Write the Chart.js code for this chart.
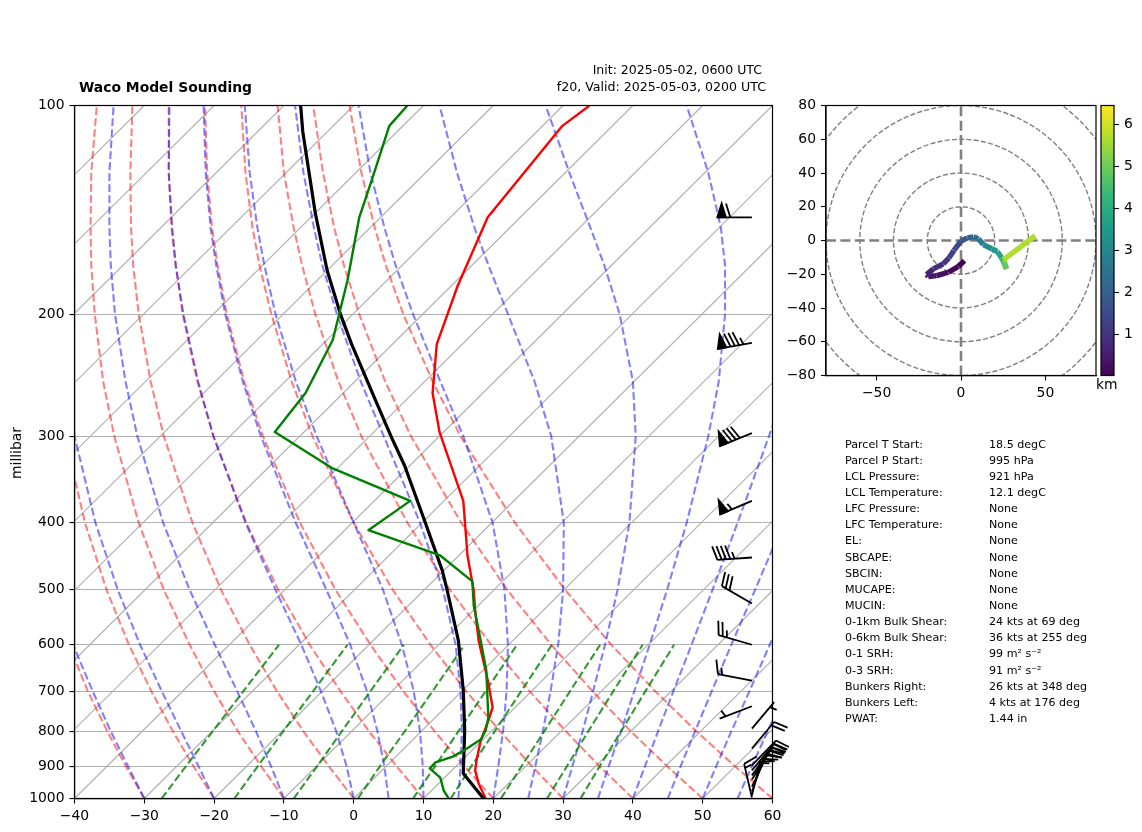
<!DOCTYPE html><html><head><meta charset="utf-8"><style>
html,body{margin:0;padding:0;background:#fff;width:1142px;height:832px;overflow:hidden}
canvas{position:absolute;left:0;top:0}
.t{position:absolute;font-family:'DejaVu Sans';color:#000;white-space:nowrap;line-height:1}
</style><script src="https://cdn.jsdelivr.net/npm/chart.js@4/dist/chart.umd.js"></script></head><body>
<canvas id="main" width="1142" height="832"></canvas>
<canvas id="hodo" width="1142" height="832"></canvas>
<canvas id="cbar" width="1142" height="832"></canvas>
<div class="t" style="left:79px;top:81px;font-size:13.9px;font-weight:bold">Waco Model Sounding</div>
<div class="t" style="right:380px;top:64px;font-size:12.5px">Init: 2025-05-02, 0600 UTC</div>
<div class="t" style="right:376px;top:81px;font-size:12.6px">f20, Valid: 2025-05-03, 0200 UTC</div>
<div class="t" style="left:17px;top:453px;font-size:13.9px;transform:translate(-50%,-50%) rotate(-90deg)">millibar</div>
<div class="t" style="left:1096px;top:378px;font-size:13.9px">km</div>
<script>
const pressureTicks=[100,200,300,400,500,600,700,800,900,1000];
const tempTicks=[-40,-30,-20,-10,0,10,20,30,40,50,60];
const levelP=[1000,900,800,700,600,500,400,300,250,200,170,150,125,100];
const mixP=[1000,900,800,700,600];
const isothermBase=[-140,-130,-120,-110,-100,-90,-80,-70,-60,-50,-40,-30,-20,-10,0,10,20,30,40,50];
const isothermTop=[-40,-30,-20,-10,0,10,20,30,40,50,60,70,80,90,100,110,120,130,140,150];
const dryAdiabats=[
[-40.0,-42.3,-44.7,-47.1,-49.5,-51.8,-53.9,-55.6,-56.0,-56.0,-55.7,-55.2,-54.1,-52.4],
[-30.0,-32.6,-35.3,-38.1,-40.8,-43.6,-46.2,-48.5,-49.3,-49.7,-49.6,-49.3,-48.6,-47.2],
[-20.0,-22.9,-25.9,-29.0,-32.2,-35.4,-38.5,-41.4,-42.6,-43.4,-43.6,-43.5,-43.1,-42.0],
[-10.0,-13.2,-16.6,-20.0,-23.5,-27.2,-30.8,-34.3,-35.9,-37.1,-37.6,-37.7,-37.6,-36.8],
[0.0,-3.5,-7.2,-11.0,-14.9,-19.0,-23.1,-27.2,-29.1,-30.8,-31.6,-31.9,-32.0,-31.7],
[10.0,6.2,2.2,-1.9,-6.3,-10.8,-15.4,-20.1,-22.4,-24.5,-25.5,-26.1,-26.5,-26.5],
[20.0,15.9,11.6,7.1,2.4,-2.6,-7.7,-13.0,-15.7,-18.2,-19.5,-20.3,-21.0,-21.3],
[30.0,25.6,21.0,16.1,11.0,5.6,-0.0,-5.9,-8.9,-11.8,-13.5,-14.5,-15.5,-16.1],
[40.0,35.3,30.4,25.2,19.7,13.8,7.7,1.1,-2.2,-5.5,-7.4,-8.6,-10.0,-10.9],
[50.0,45.0,39.7,34.2,28.3,22.0,15.4,8.2,4.5,0.8,-1.4,-2.8,-4.4,-5.8],
[60.0,54.7,49.1,43.2,36.9,30.3,23.1,15.3,11.3,7.1,4.6,3.0,1.1,-0.6]];
const moistAdiabats=[
[-40.0,-42.2,-44.5,-46.9,-49.2,-51.5,-53.7,-55.4,-55.8,-55.8,-55.5,-55.0,-53.9,-52.2],
[-30.0,-32.3,-34.8,-37.4,-40.2,-42.9,-45.6,-47.9,-48.8,-49.2,-49.1,-48.9,-48.1,-46.8],
[-20.0,-22.2,-24.7,-27.5,-30.6,-33.8,-37.0,-40.0,-41.2,-42.1,-42.4,-42.4,-42.0,-41.0],
[-10.0,-11.8,-14.0,-16.7,-19.9,-23.5,-27.3,-31.0,-32.7,-34.2,-34.8,-35.0,-35.0,-34.4],
[0.0,-1.0,-2.5,-4.7,-7.5,-11.2,-15.5,-20.1,-22.3,-24.4,-25.5,-26.0,-26.5,-26.4],
[5.0,4.4,3.4,1.9,-0.5,-3.9,-8.3,-13.3,-15.9,-18.4,-19.7,-20.5,-21.2,-21.5],
[10.0,9.9,9.5,8.6,6.9,4.2,0.0,-5.3,-8.3,-11.2,-12.8,-13.8,-14.9,-15.6],
[15.0,15.3,15.5,15.3,14.6,12.8,9.5,4.3,1.0,-2.4,-4.5,-5.7,-7.2,-8.4],
[20.0,20.7,21.4,21.9,22.1,21.6,19.9,15.7,12.4,8.5,6.0,4.4,2.4,0.7],
[25.0,26.0,27.1,28.2,29.3,30.0,30.1,28.3,25.9,22.1,19.3,17.3,14.8,12.3],
[30.0,31.3,32.8,34.3,36.0,37.8,39.5,40.4,40.0,38.1,35.9,33.9,30.9,27.5],
[35.0,36.5,38.3,40.2,42.4,44.9,47.7,50.8,52.3,53.2,53.2,52.6,50.8,47.7],
[40.0,41.7,43.6,45.8,48.4,51.4,55.0,59.5,62.2,65.1,67.0,68.2,69.4,69.8],
[45.0,46.8,48.9,51.3,54.1,57.5,61.6,66.9,70.3,74.4,77.2,79.4,82.4,85.7],
[50.0,51.9,54.1,56.7,59.6,63.2,67.7,73.5,77.3,81.9,85.3,88.0,91.8,96.4],
[55.0,57.0,59.3,61.9,65.0,68.7,73.4,79.6,83.6,88.5,92.2,95.0,99.2,104.4],
[60.0,62.0,64.4,67.0,70.2,74.0,78.8,85.2,89.3,94.5,98.3,101.2,105.6,111.1]];
const mixingLines=[
[-27.5,-24.1,-20.2,-15.8,-10.7],
[-17.1,-13.8,-10.1,-5.8,-0.9],
[-8.6,-5.3,-1.7,2.4,7.2],
[0.6,3.7,7.3,11.3,15.9],
[8.5,11.6,15.0,18.9,23.4],
[13.9,16.8,20.2,24.0,28.4],
[21.1,24.0,27.3,31.0,35.3],
[27.7,30.5,33.6,37.2,41.4],
[32.5,35.2,38.3,41.8,45.9]];
const tempX=[33.8,29.9,19.2,14.9,11.9,11.3,12.3,15.7,16.3,17.2,17.4,17.9,18.7,19.3,19.9,19.3,18.2,17.6,17.4,17.9,18.7,18.9];
const tempP=[100,107,145,182,221,260,296,372,446,501,535,592,641,682,739,772,825,881,911,951,990,1000];
const dewX=[7.7,5.1,2.6,0.8,-0.9,-3.0,-6.9,-11.3,-3.0,8.1,2.1,12.4,17.0,17.2,18.2,19.0,19.2,19.3,18.9,18.2,16.0,14.2,11.7,10.9,12.4,12.9,13.6];
const dewP=[100,107,128,145,179,218,260,296,334,372,410,446,486,527,592,654,729,764,798,822,850,870,887,905,933,974,1000];
const parcelX=[-7.6,-7.3,-5.5,-3.8,-1.9,-0.3,3.1,5.4,7.3,10.3,12.7,13.4,15.0,15.7,15.9,15.7,18.6];
const parcelP=[100,109,143,173,200,221,266,301,331,401,469,501,592,698,798,920,1000];
const barbP=[145,220,297,372,449,523,600,676,736,793,847,896,911,926,939,961,977,990,997];
const barbSpd=[60,85,80,55,45,30,25,15,5,5,20,20,20,20,20,15,15,10,15];
const barbDir=[270,260,248,247,266,300,286,281,249,40,40,44,40,36,32,26,20,14,347];
const barbColumnX=57.05;
const hodoU=[2,-1.6,-7.5,-14.4,-19.4,-20.4,-16.4,-10.5,-7.1,-4.2,0,3.8,7.3,10.3,13.2,18.2,21.5,24.1,27,25.1,44];
const hodoV=[-11.9,-15.4,-18.8,-20.8,-21.3,-20.2,-16.8,-13.8,-10.3,-5.9,-0.4,1.6,2.2,1,-2.4,-4.9,-6.5,-10.3,-16.8,-11.5,2.8];
const hodoH=[0.05,0.15,0.3,0.4,0.55,0.65,0.85,1.05,1.3,1.5,1.8,2.1,2.4,2.7,3.1,3.5,3.8,4.2,4.9,5.7,5.9];
const hodoRings=[20,40,60,80,100];
const hodoXTicks=[-50,0,50];
const hodoYTicks=[-80,-60,-40,-20,0,20,40,60,80];
const cbarTicks=[1,2,3,4,5,6];
const cbarRange=[0.03,6.46];
const viridis=['#440154','#482878','#3e4989','#31688e','#26828e','#1f9e89','#35b779','#6ece58','#b5de2b','#fde725'];
const statLabels=['Parcel T Start:','Parcel P Start:','LCL Pressure:','LCL Temperature:','LFC Pressure:','LFC Temperature:','EL:','SBCAPE:','SBCIN:','MUCAPE:','MUCIN:','0-1km Bulk Shear:','0-6km Bulk Shear:','0-1 SRH:','0-3 SRH:','Bunkers Right:','Bunkers Left:','PWAT:'];
const statValues=['18.5 degC','995 hPa','921 hPa','12.1 degC','None','None','None','None','None','None','None','24 kts at 69 deg','36 kts at 255 deg','99 m² s⁻²','91 m² s⁻²','26 kts at 348 deg','4 kts at 176 deg','1.44 in'];

statLabels.forEach((s,i)=>{
  [[s,845],[statValues[i],989]].forEach(([txt,x])=>{
    const d=document.createElement('div');d.className='t';d.textContent=txt;
    d.style.cssText='left:'+x+'px;top:'+(438.6+i*16.14)+'px;font-size:11.1px';
    document.body.appendChild(d);
  });
});
const FONT={family:'DejaVu Sans',size:13.9};
Chart.defaults.font.family='DejaVu Sans';
Chart.defaults.color='#000';
const line=(xs,ps,color,width,dash,order)=>({data:xs.map((x,i)=>({x,y:ps[i]})),showLine:true,pointRadius:0,borderColor:color,borderWidth:width,borderDash:dash||[],order,tension:0,fill:false,borderJoinStyle:'round'});
const DASH=[7.7,3.3];
const ds=[];
isothermBase.forEach((t,i)=>ds.push(line([t,isothermTop[i]],[1000,100],'#b0b0b0',1.1,null,7)));
dryAdiabats.forEach(a=>ds.push(line(a,levelP,'rgba(255,0,0,0.5)',2.1,DASH,6)));
moistAdiabats.forEach(a=>ds.push(line(a,levelP,'rgba(0,0,255,0.5)',2.1,DASH,5)));
mixingLines.forEach(a=>ds.push(line(a,mixP,'rgba(0,128,0,0.8)',2.1,DASH,4)));
ds.push(line(tempX,tempP,'#ff0000',2.4,null,3));
ds.push(line(parcelX,parcelP,'#000000',3.2,null,2));
ds.push(line(dewX,dewP,'#008000',2.4,null,1));

const frame={id:'frame',afterDatasetsDraw(c){const a=c.chartArea,x=c.ctx;x.save();x.strokeStyle='#000';x.lineWidth=1.2;x.setLineDash([]);x.strokeRect(a.left,a.top,a.right-a.left,a.bottom-a.top);x.restore();}};
function drawBarb(x,bx,by,spd,dir){
  const L=34.6,H=0.4*L,W=0.25*L,S=0.125*L,r=dir*Math.PI/180;
  const dx=Math.sin(r),dy=-Math.cos(r),sx=Math.cos(r),sy=Math.sin(r);
  const P=(d,h)=>[bx+dx*d+sx*h,by+dy*d+sy*h];
  x.beginPath();x.moveTo(bx,by);x.lineTo(...P(L,0));x.stroke();
  let n50=Math.floor(spd/50),n10=Math.floor((spd%50)/10),n5=Math.floor((spd%10)/5),d=L;
  for(let i=0;i<n50;i++){x.beginPath();x.moveTo(...P(d,0));x.lineTo(...P(d-W/2,H));x.lineTo(...P(d-W,0));x.closePath();x.fill();x.stroke();d-=W+S;}
  for(let i=0;i<n10;i++){x.beginPath();x.moveTo(...P(d,0));x.lineTo(...P(d+W/2,H));x.stroke();d-=S;}
  if(n5){if(n50+n10===0)d-=1.5*S;x.beginPath();x.moveTo(...P(d,0));x.lineTo(...P(d+W/4,H/2));x.stroke();}
}
const barbs={id:'barbs',afterDatasetsDraw(c){const x=c.ctx;x.save();x.strokeStyle='#000';x.fillStyle='#000';x.lineWidth=1.8;x.setLineDash([]);
  barbP.forEach((p,i)=>drawBarb(x,c.scales.x.getPixelForValue(barbColumnX),c.scales.y.getPixelForValue(p),barbSpd[i],barbDir[i]));x.restore();}};
const setTicks=(vals)=>(s)=>{s.ticks=vals.map(v=>({value:v}));};
const tickCfg={font:FONT,autoSkip:false,maxRotation:0,minRotation:0,padding:5,color:'#000',callback:v=>(v<0?'\u2212'+(-v):String(v))};
const gridOff={drawOnChartArea:false,tickColor:'#000',tickLength:5,tickWidth:1.1};
const spine={color:'#000',width:1.2};
new Chart(document.getElementById('main'),{type:'scatter',data:{datasets:ds},plugins:[frame,barbs],options:{
  responsive:false,animation:false,events:[],
  layout:{autoPadding:false,padding:{left:0,right:369.5,top:105.5,bottom:0}},
  plugins:{legend:{display:false},tooltip:{enabled:false},title:{display:false}},
  scales:{
    x:{type:'linear',min:-40,max:60,afterBuildTicks:setTicks(tempTicks),afterFit(s){s.height=33.5;},ticks:tickCfg,grid:gridOff,border:spine},
    y:{type:'logarithmic',reverse:true,min:100,max:1000,afterBuildTicks:setTicks(pressureTicks),afterFit(s){s.width=74.5;},ticks:tickCfg,grid:{color:'#b0b0b0',lineWidth:1.1,tickColor:'#000',tickLength:5,tickWidth:1.1},border:spine}
  }}});

const rings={id:'rings',beforeDatasetsDraw(c){const a=c.chartArea,x=c.ctx,sx=c.scales.x,sy=c.scales.y;x.save();x.beginPath();x.rect(a.left,a.top,a.right-a.left,a.bottom-a.top);x.clip();x.strokeStyle='#808080';x.lineWidth=1.4;x.setLineDash([5.1,2.2]);
  hodoRings.forEach(r=>{x.beginPath();x.arc(sx.getPixelForValue(0),sy.getPixelForValue(0),sx.getPixelForValue(r)-sx.getPixelForValue(0),0,Math.PI*2);x.stroke();});x.restore();}};
const hex=h=>[1,3,5].map(i=>parseInt(h.substr(i,2),16));
const vcolor=t=>{t=Math.max(0,Math.min(0.9999,t))*(viridis.length-1);const i=Math.floor(t),f=t-i,a=hex(viridis[i]),b=hex(viridis[i+1]);return 'rgb('+a.map((v,k)=>Math.round(v+(b[k]-v)*f)).join(',')+')';};
const axisDash=[10,4.4];
new Chart(document.getElementById('hodo'),{type:'scatter',data:{datasets:[
  {data:hodoU.map((u,i)=>({x:u,y:hodoV[i]})),showLine:true,pointRadius:0,borderWidth:5.4,tension:0,borderColor:'#444',borderCapStyle:'butt',borderJoinStyle:'round',order:1,
   segment:{borderColor:ctx=>vcolor((hodoH[ctx.p0DataIndex]-cbarRange[0])/(cbarRange[1]-cbarRange[0]))}},
  {data:[{x:-80,y:0},{x:80,y:0}],showLine:true,pointRadius:0,borderColor:'#808080',borderWidth:2.6,borderDash:axisDash,order:2},
  {data:[{x:0,y:-80},{x:0,y:80}],showLine:true,pointRadius:0,borderColor:'#808080',borderWidth:2.6,borderDash:axisDash,order:2}
]},plugins:[rings,frame],options:{
  responsive:false,animation:false,events:[],
  layout:{autoPadding:false,padding:{left:780,right:46,top:105.5,bottom:422.5}},
  plugins:{legend:{display:false},tooltip:{enabled:false}},
  scales:{
    x:{type:'linear',min:-80,max:80,afterBuildTicks:setTicks(hodoXTicks),afterFit(s){s.height=34;},ticks:tickCfg,grid:gridOff,border:spine},
    y:{type:'linear',min:-80,max:80,afterBuildTicks:setTicks(hodoYTicks),afterFit(s){s.width=46;},ticks:tickCfg,grid:gridOff,border:spine}
  }}});

new Chart(document.getElementById('cbar'),{type:'bar',data:{labels:['km'],datasets:[{data:[cbarRange],barPercentage:1,categoryPercentage:1,borderWidth:0,
  backgroundColor:ctx=>{const c=ctx.chart,a=c.chartArea;if(!a)return viridis[0];const g=c.ctx.createLinearGradient(0,a.bottom,0,a.top);viridis.forEach((v,i)=>g.addColorStop(i/(viridis.length-1),v));return g;}}]},
  plugins:[frame],options:{
  responsive:false,animation:false,events:[],
  layout:{autoPadding:false,padding:{left:1101,right:0,top:105.5,bottom:456.5}},
  plugins:{legend:{display:false},tooltip:{enabled:false}},
  scales:{
    x:{display:false,afterFit(s){s.height=0;}},
    y:{type:'linear',position:'right',min:cbarRange[0],max:cbarRange[1],afterBuildTicks:setTicks(cbarTicks),afterFit(s){s.width=28;},ticks:tickCfg,grid:gridOff,border:{display:false}}
  }}});
</script></body></html>
